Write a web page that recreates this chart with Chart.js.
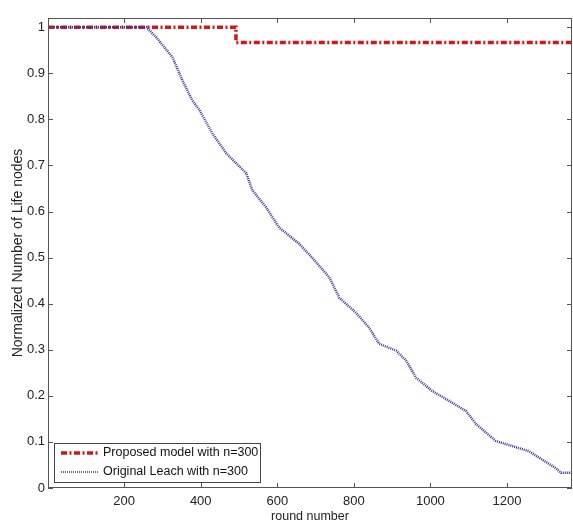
<!DOCTYPE html>
<html>
<head>
<meta charset="utf-8">
<script src="https://cdn.jsdelivr.net/npm/chart.js@4.4.1/dist/chart.umd.min.js"></script>
<style>
  html, body { margin: 0; padding: 0; background: #fff; }
  #wrap { width: 573px; height: 522px; }
</style>
</head>
<body>
<div id="wrap"><canvas id="lifeChart" width="573" height="522"></canvas></div>
<script>
"use strict";

// proposed model (red, dash-dot)
var proposedRounds = [1, 492, 492, 1370];
var proposedValues = [1, 1, 0.967, 0.967];

// original leach (blue, dotted)
var leachRounds = [1, 258, 284, 326, 352, 378, 397, 430, 467, 519, 535, 571, 605, 657, 691, 736, 762, 806, 840, 866, 911, 937, 963, 1004, 1049, 1093, 1119, 1171, 1257, 1328, 1341, 1370];
var leachValues = [1, 1, 0.978, 0.935, 0.885, 0.841, 0.82, 0.77, 0.726, 0.683, 0.646, 0.609, 0.565, 0.53, 0.5, 0.457, 0.413, 0.38, 0.348, 0.313, 0.298, 0.276, 0.239, 0.211, 0.189, 0.167, 0.139, 0.102, 0.08, 0.043, 0.033, 0.033];

var xTicks = [200, 400, 600, 800, 1000, 1200];
var yTicks = [0, 0.1, 0.2, 0.3, 0.4, 0.5, 0.6, 0.7, 0.8, 0.9, 1];

var legendLabels = ['Proposed model with n=300', 'Original Leach with n=300'];

var FONT = 'Liberation Sans, Arial, sans-serif';
var RED = '#d01818';
var BLUE = '#34349a';

function toPoints(xs, ys) {
    return xs.map(function (x, i) { return { x: x, y: ys[i] }; });
}

// MATLAB-like inner ticks on all four sides + inset legend
var matlabAxes = {
    id: 'matlabAxes',
    afterDatasetsDraw: function (chart) {
        var ctx = chart.ctx;
        var a = chart.chartArea;
        var xs = chart.scales.x, ys = chart.scales.y;
        ctx.save();
        ctx.strokeStyle = '#555';
        ctx.lineWidth = 1;
        ctx.beginPath();
        xTicks.forEach(function (v) {
            var px = Math.round(xs.getPixelForValue(v)) + 0.5;
            ctx.moveTo(px, a.bottom); ctx.lineTo(px, a.bottom - 5);
            ctx.moveTo(px, a.top); ctx.lineTo(px, a.top + 5);
        });
        yTicks.forEach(function (v) {
            var py = Math.round(ys.getPixelForValue(v)) + 0.5;
            ctx.moveTo(a.left, py); ctx.lineTo(a.left + 5, py);
            ctx.moveTo(a.right, py); ctx.lineTo(a.right - 5, py);
        });
        ctx.stroke();
        ctx.strokeRect(a.left + 0.5, a.top + 0.5, a.right - a.left - 1, a.bottom - a.top - 1);

        // legend box
        var lx = a.left + 6, ly = a.bottom - 45, lw = 206, lh = 39;
        ctx.fillStyle = '#fff';
        ctx.fillRect(lx, ly, lw, lh);
        ctx.strokeStyle = '#444';
        ctx.strokeRect(lx + 0.5, ly + 0.5, lw, lh);
        var sets = chart.data.datasets;
        ctx.font = '12.5px ' + FONT;
        ctx.textBaseline = 'middle';
        [0, 1].forEach(function (i) {
            var ds = sets[i];
            var yy = ly + 10 + i * 19;
            ctx.strokeStyle = ds.borderColor;
            ctx.lineWidth = i === 0 ? ds.borderWidth : 1.5;
            ctx.setLineDash(ds.borderDash);
            ctx.beginPath();
            ctx.moveTo(lx + 7, yy); ctx.lineTo(lx + 45, yy);
            ctx.stroke();
            ctx.setLineDash([]);
            ctx.fillStyle = '#111';
            ctx.fillText(legendLabels[i], lx + 49, yy);
        });
        ctx.restore();
    }
};

var lifeChart = new Chart(document.getElementById('lifeChart'), {
    type: 'line',
    data: {
        datasets: [{
            label: legendLabels[0],
            data: toPoints(proposedRounds, proposedValues),
            borderColor: RED,
            borderWidth: 3.5,
            borderDash: [6, 2.5, 2, 2.5],
            pointRadius: 0,
            fill: false,
            order: 2
        }, {
            label: legendLabels[1],
            data: toPoints(leachRounds, leachValues),
            borderColor: BLUE,
            borderWidth: 2.5,
            borderDash: [1, 1],
            pointRadius: 0,
            fill: false,
            order: 1
        }]
    },
    options: {
        responsive: false,
        animation: false,
        layout: { padding: { top: 18, right: 1, left: 0, bottom: 0 } },
        plugins: { legend: { display: false }, tooltip: { enabled: false } },
        scales: {
            x: {
                type: 'linear',
                min: 1,
                max: 1370,
                grid: { display: false, drawTicks: false },
                border: { display: false },
                afterBuildTicks: function (s) { s.ticks = xTicks.map(function (v) { return { value: v }; }); },
                afterFit: function (s) { s.height = 34; },
                ticks: {
                    color: '#222', font: { family: FONT, size: 13 }, padding: 6, maxRotation: 0,
                    callback: function (v) { return String(v); }
                },
                title: { display: true, text: 'round number', color: '#222', font: { family: FONT, size: 12.5 }, padding: { top: 0, bottom: -2 } }
            },
            y: {
                min: 0,
                max: 1.02,
                grid: { display: false, drawTicks: false },
                border: { display: false },
                afterBuildTicks: function (s) { s.ticks = yTicks.map(function (v) { return { value: v }; }); },
                afterFit: function (s) { s.width = 48; },
                ticks: {
                    color: '#222', font: { family: FONT, size: 13 }, padding: 3,
                    callback: function (v) { return String(Math.round(v * 10) / 10); }
                },
                title: { display: true, text: 'Normalized Number of Life nodes', color: '#222', font: { family: FONT, size: 14 }, padding: { top: 10, bottom: 0 } }
            }
        }
    },
    plugins: [matlabAxes]
});
</script>
</body>
</html>
